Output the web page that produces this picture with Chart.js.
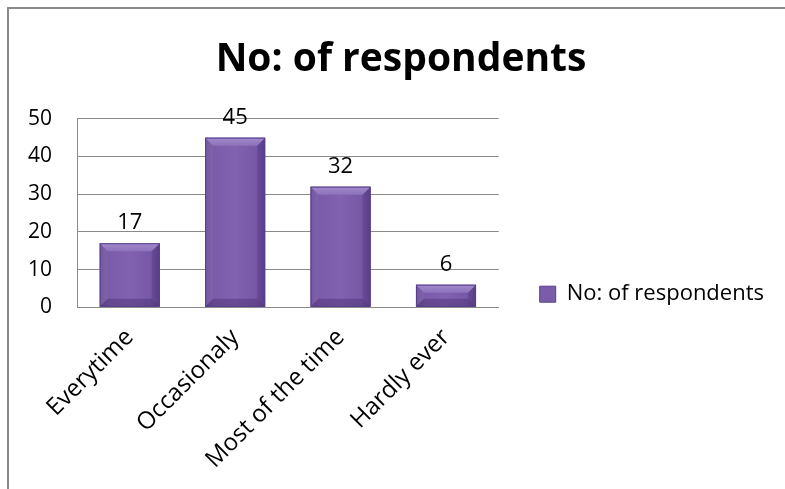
<!DOCTYPE html>
<html>
<head>
<meta charset="utf-8">
<script src="https://cdn.jsdelivr.net/npm/chart.js@4.4.1/dist/chart.umd.min.js"></script>
<style>
  html, body { margin: 0; padding: 0; background: #fff; }
  #wrap { position: relative; width: 785px; height: 489px; overflow: hidden; }
  #frame { position: absolute; left: 7px; top: 7px; width: 800px; height: 500px;
           border-top: 2px solid #8a8a8a; border-left: 2px solid #8a8a8a; }
  #chart { position: absolute; left: 0; top: 0; }
</style>
</head>
<body>
<div id="wrap">
  <div id="frame"></div>
  <canvas id="chart" width="785" height="489"></canvas>
</div>
<script>
const categories = ['Everytime', 'Occasionaly', 'Most of the time', 'Hardly ever'];
const respondents = [17, 45, 32, 6];
const seriesName = 'No: of respondents';
const yTicks = [0, 10, 20, 30, 40, 50];

const FONT = '"Open Sans", sans-serif';

// purple bevelled bars, drawn over the plain fill
const bevelBars = {
  id: 'bevelBars',
  afterDatasetsDraw(chart) {
    const ctx = chart.ctx;
    chart.getDatasetMeta(0).data.forEach((bar) => {
      const left = bar.x - bar.width / 2;
      const right = bar.x + bar.width / 2;
      const top = bar.y;
      const bottom = bar.base;
      const b = Math.min(8, (bottom - top) / 2);

      ctx.save();
      const g = ctx.createLinearGradient(left, 0, right, 0);
      g.addColorStop(0, '#6a4c99');
      g.addColorStop(0.15, '#7a5caa');
      g.addColorStop(0.5, '#8062b0');
      g.addColorStop(0.85, '#7658a6');
      g.addColorStop(1, '#5f4390');
      ctx.fillStyle = g;
      ctx.fillRect(left, top, right - left, bottom - top);

      // top bevel
      ctx.beginPath();
      ctx.moveTo(left, top);
      ctx.lineTo(right, top);
      ctx.lineTo(right - b, top + b);
      ctx.lineTo(left + b, top + b);
      ctx.closePath();
      const gt = ctx.createLinearGradient(0, top, 0, top + b);
      gt.addColorStop(0, '#a28bcc');
      gt.addColorStop(1, '#8d72bb');
      ctx.fillStyle = gt;
      ctx.fill();

      // side bevels
      ctx.fillStyle = 'rgba(70,45,110,0.25)';
      ctx.beginPath();
      ctx.moveTo(right, top);
      ctx.lineTo(right, bottom);
      ctx.lineTo(right - b, bottom - b);
      ctx.lineTo(right - b, top + b);
      ctx.closePath();
      ctx.fill();
      ctx.fillStyle = 'rgba(255,255,255,0.06)';
      ctx.beginPath();
      ctx.moveTo(left, top);
      ctx.lineTo(left, bottom);
      ctx.lineTo(left + b, bottom - b);
      ctx.lineTo(left + b, top + b);
      ctx.closePath();
      ctx.fill();

      // bottom bevel
      ctx.fillStyle = 'rgba(60,35,95,0.35)';
      ctx.beginPath();
      ctx.moveTo(left, bottom);
      ctx.lineTo(right, bottom);
      ctx.lineTo(right - b, bottom - b);
      ctx.lineTo(left + b, bottom - b);
      ctx.closePath();
      ctx.fill();

      ctx.strokeStyle = '#56408a';
      ctx.lineWidth = 1;
      ctx.strokeRect(left + 0.5, top + 0.5, right - left - 1, bottom - top - 1);
      ctx.restore();
    });
  }
};

// value written above each bar
const valueLabels = {
  id: 'valueLabels',
  afterDatasetsDraw(chart) {
    const ctx = chart.ctx;
    const ds = chart.data.datasets[0];
    ctx.save();
    ctx.font = '22px ' + FONT;
    ctx.fillStyle = '#000';
    ctx.textAlign = 'center';
    ctx.textBaseline = 'alphabetic';
    chart.getDatasetMeta(0).data.forEach((bar, i) => {
      ctx.fillText(ds.data[i], bar.x, bar.y - 14);
    });
    ctx.restore();
  }
};

new Chart(document.getElementById('chart'), {
  type: 'bar',
  data: {
    labels: categories,
    datasets: [{
      label: seriesName,
      data: respondents,
      backgroundColor: '#7a5caa',
      borderColor: '#56408a',
      borderWidth: 1,
      barPercentage: 0.57,
      categoryPercentage: 1
    }]
  },
  options: {
    responsive: false,
    animation: false,
    layout: { padding: { left: 28, right: 11, top: 0, bottom: 7 } },
    plugins: {
      title: {
        display: true,
        text: seriesName,
        color: '#000',
        font: { family: FONT, size: 39, weight: 'bold' },
        padding: { top: 36, bottom: 36 }
      },
      legend: {
        position: 'right',
        maxWidth: 300,
        // empty legend title only pushes the entry down
        title: { display: true, text: '', padding: { top: 0, bottom: 92 } },
        labels: {
          color: '#000',
          font: { family: FONT, size: 22 },
          boxWidth: 16,
          boxHeight: 16,
          padding: 10
        }
      },
      tooltip: { enabled: false }
    },
    scales: {
      x: {
        grid: { display: false },
        border: { display: true, color: '#8a8a8a' },
        ticks: {
          color: '#000',
          font: { family: FONT, size: 24 },
          maxRotation: 45,
          minRotation: 45,
          padding: 8
        },
        // rotated labels fit inside the left margin already
        afterFit(axis) { axis.paddingLeft = 0; axis.paddingRight = 0; }
      },
      y: {
        min: 0,
        max: 50,
        afterBuildTicks(axis) { axis.ticks = yTicks.map((v) => ({ value: v })); },
        // labels plus one padding, not two
        afterFit(axis) { axis.width = 49; },
        grid: { color: '#8a8a8a', drawTicks: false },
        border: { display: true, color: '#8a8a8a' },
        ticks: {
          color: '#000',
          font: { family: FONT, size: 21 },
          padding: 25
        }
      },
      // empty axis keeping a gap between plot and legend
      gap: {
        type: 'linear',
        position: 'right',
        display: true,
        grid: { display: false },
        border: { display: false },
        ticks: { display: false },
        afterFit(axis) { axis.width = 31; }
      }
    }
  },
  plugins: [bevelBars, valueLabels]
});
</script>
</body>
</html>
